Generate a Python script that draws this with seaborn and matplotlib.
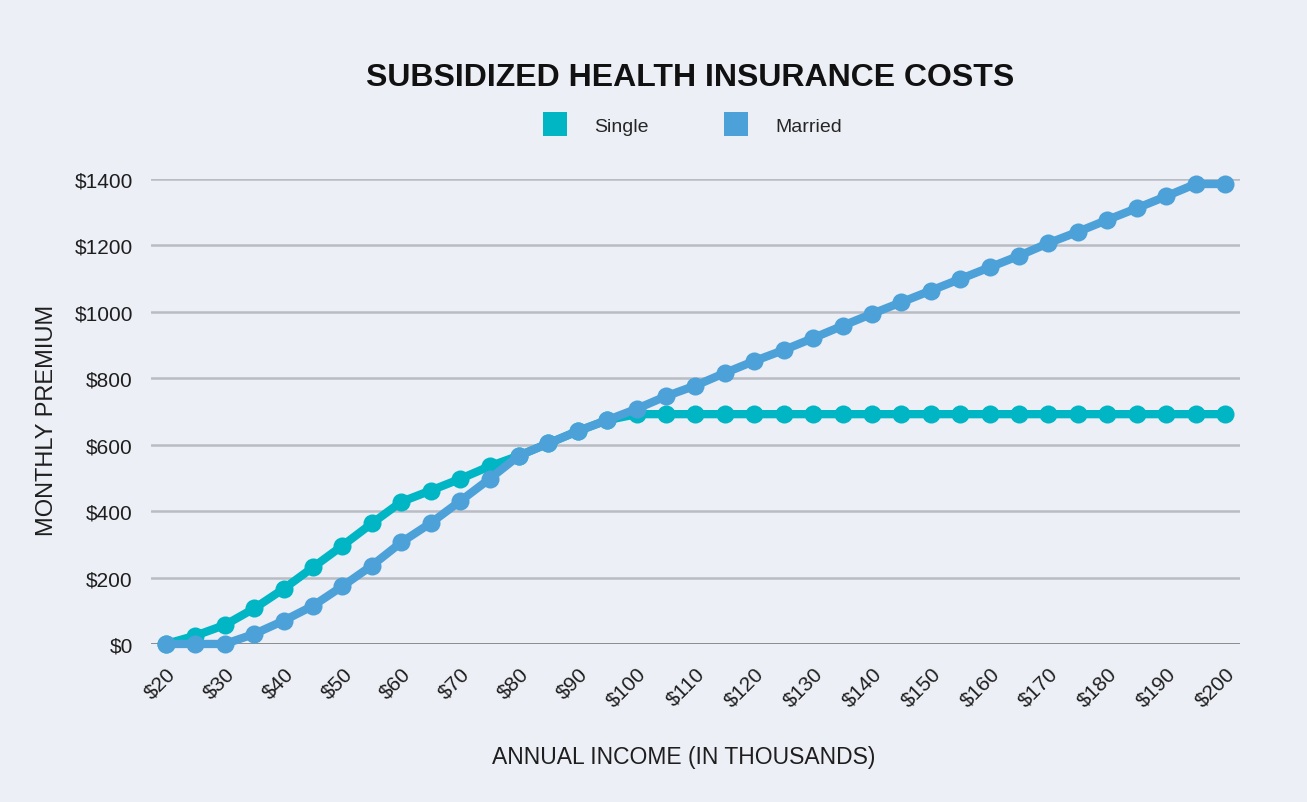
import numpy as np
import pandas as pd
import matplotlib
matplotlib.use('Agg')
import matplotlib.pyplot as plt
from matplotlib.lines import Line2D
import seaborn as sns

# income in thousands, monthly premium in dollars
income = list(range(20, 205, 5))
single = [0, 25, 57, 107, 166, 231, 296, 363, 428, 462, 497, 535, 567, 604, 641, 674,
          692, 692, 692, 692, 692, 692, 692, 692, 692, 692, 692, 692, 692, 692, 692,
          692, 692, 692, 692, 692, 692]
married = [0, 0, 0, 30, 70, 115, 174, 236, 306, 364, 430, 497, 567, 604, 641, 674,
           708, 746, 778, 816, 852, 885, 921, 958, 994, 1029, 1064, 1099, 1134, 1169,
           1207, 1241, 1277, 1312, 1348, 1385, 1385]
series_names = ['Single', 'Married']
series_colors = ['#00B6C5', '#4CA1D8']
x_ticks = list(range(20, 201, 10))
y_ticks = list(range(0, 1401, 200))

df = pd.DataFrame({
    'income': income * 2,
    'premium': single + married,
    'status': ['Single'] * len(income) + ['Married'] * len(income),
})

bg = '#ECEFF6'
txt = '#1E1E1E'
sns.set_theme(style='white')
plt.rcParams['font.family'] = ['Liberation Sans', 'DejaVu Sans']

fig = plt.figure(figsize=(13.07, 8.03), dpi=100, facecolor=bg)
ax = fig.add_axes([0.1155, 0.1968, 0.8332, 0.579])
ax.set_facecolor(bg)

sns.lineplot(data=df, x='income', y='premium', hue='status', hue_order=series_names,
             palette=series_colors, marker='o', markersize=13, markeredgewidth=0,
             linewidth=6, legend=False, ax=ax, clip_on=False)

ax.set_xlim(17.45, 202.55)
ax.set_ylim(0, 1400)
ax.set_xticks(x_ticks)
ax.set_xticklabels([f'${v}' for v in x_ticks], rotation=45, fontsize=15, color=txt,
                   ha='right', rotation_mode='anchor')
ax.set_yticks(y_ticks)
ax.set_yticklabels([f'${v}' for v in y_ticks], fontsize=15, color=txt)
ax.tick_params(axis='y', length=0, pad=13)
ax.tick_params(axis='x', length=0, pad=14)

for v in y_ticks[1:]:
    ax.axhline(v, color='#B9BCC3', linewidth=1.8, zorder=0)
ax.axhline(0, color='#6E6E6E', linewidth=1.8, zorder=0)
for s in ax.spines.values():
    s.set_visible(False)

ax.set_xlabel('')
ax.set_ylabel('')
fig.text(0.523, 0.057, 'ANNUAL INCOME (IN THOUSANDS)', ha='center', va='center',
         fontsize=16.5, color=txt)
fig.text(0.036, 0.477, 'MONTHLY PREMIUM', ha='center', va='center', rotation=90,
         fontsize=17, color=txt)

fig.text(0.528, 0.903, 'SUBSIDIZED HEALTH INSURANCE COSTS', ha='center', va='center',
         fontsize=23, fontweight='bold', color='#111111')

handles = [Line2D([0], [0], marker='s', linestyle='none', markersize=17,
                  markerfacecolor=c, markeredgewidth=0) for c in series_colors]
fig.legend(handles, series_names, loc='center', bbox_to_anchor=(0.527, 0.842), ncol=2,
           frameon=False, fontsize=14, columnspacing=3.5, handletextpad=1.0)

fig.savefig('out.png', dpi=100, facecolor=bg)
